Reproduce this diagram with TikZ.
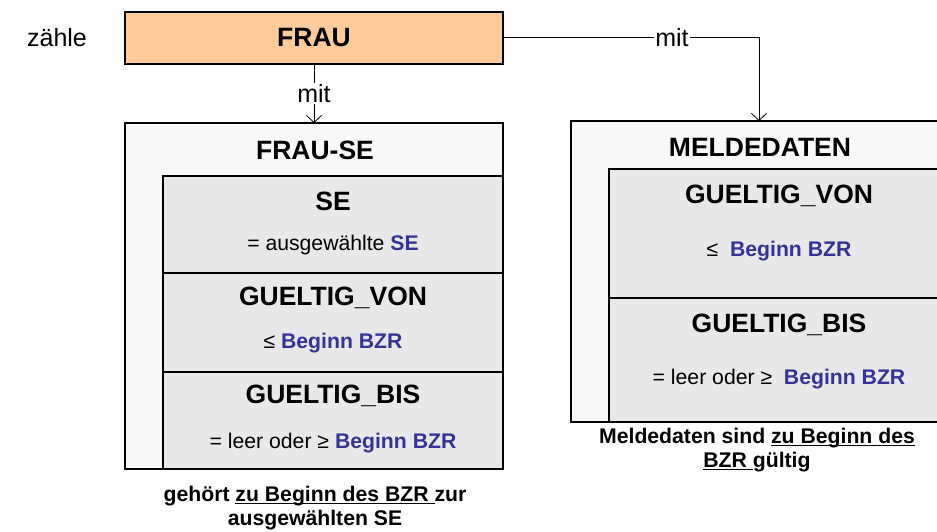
\documentclass[tikz,border=0pt]{standalone}
\usepackage{fontspec}
\setmainfont{Liberation Sans}
\usetikzlibrary{arrows.meta,calc}
\definecolor{fraufill}{HTML}{FFCC99}
\definecolor{outerfill}{HTML}{F8F8F8}
\definecolor{innerfill}{HTML}{E8E8E8}
\definecolor{bluetxt}{HTML}{333399}
\newcommand{\hd}{\fontsize{26.5}{29}\selectfont\bfseries}
\newcommand{\tx}{\fontsize{21.2}{25}\selectfont}
\newcommand{\bl}[1]{\textcolor{bluetxt}{\bfseries #1}}
\newcommand{\myul}[1]{\setbox0\hbox{#1}\rlap{\rule[-3pt]{\wd0}{1.3pt}}\box0}
\begin{document}
\begin{tikzpicture}[x=1pt,y=-1pt,
  box/.style={draw=black, line width=2pt, anchor=north west, inner sep=0pt, outer sep=0pt},
  lbl/.style={inner sep=0pt, anchor=center},
  conn/.style={line width=1pt, -{Straight Barb[length=7pt,width=15pt,line width=0.8pt]}},
  connlbl/.style={fill=white, inner sep=1pt, font=\fontsize{25}{28}\selectfont}
]
\useasboundingbox (0,0) rectangle (937,532);
% FRAU
\node[box, fill=fraufill, minimum width=378pt, minimum height=52pt] (frau) at (125,12) {};
\node[lbl] (frautxt) at (frau.center) {\hd FRAU};
\node[lbl] (zaehle) at (57,38) {\fontsize{25}{28}\selectfont zähle};
% FRAU-SE
\node[box, fill=outerfill, minimum width=378pt, minimum height=346pt] (frause) at (125,123) {};
\node[lbl] (frausetxt) at (315,150) {\hd FRAU-SE};
\node[box, fill=innerfill, minimum width=340pt, minimum height=97pt] (se) at (163,176) {};
\node[box, fill=innerfill, minimum width=340pt, minimum height=99pt] (gv1) at (163,273) {};
\node[box, fill=innerfill, minimum width=340pt, minimum height=97pt] (gb1) at (163,372) {};
\node[lbl] (setxt) at (333,201) {\hd SE};
\node[lbl] (sesub) at (333,245) {\tx = ausgewählte \bl{SE}};
\node[lbl] (gv1txt) at (333,298) {\hd GUELTIG\_VON};
\node[lbl] (gv1sub) at (333,343) {\tx ≤ \bl{Beginn BZR}};
\node[lbl] (gb1txt) at (333,396) {\hd GUELTIG\_BIS};
\node[lbl] (gb1sub) at (333,443) {\tx = leer oder ≥ \bl{Beginn BZR}};
\node[lbl, align=center, font=\tx\bfseries] (cap1) at (315,508) {gehört \myul{zu Beginn des BZR\ }zur\\[-1pt]ausgewählten SE};
% MELDEDATEN
\node[box, fill=outerfill, minimum width=372pt, minimum height=301pt] (meld) at (571,121) {};
\node[lbl] (meldtxt) at (760,147) {\hd MELDEDATEN};
\node[box, fill=innerfill, minimum width=334pt, minimum height=129pt] (gv2) at (609,169) {};
\node[box, fill=innerfill, minimum width=334pt, minimum height=124pt] (gb2) at (609,298) {};
\node[lbl] (gv2txt) at (779,196) {\hd GUELTIG\_VON};
\node[lbl] (gv2sub) at (779,251) {\tx ≤\ \ \bl{Beginn BZR}};
\node[lbl] (gb2txt) at (779,325) {\hd GUELTIG\_BIS};
\node[lbl] (gb2sub) at (779,379) {\tx = leer oder ≥\ \ \bl{Beginn BZR}};
\node[lbl, align=center, font=\tx\bfseries] (cap2) at (757,450) {Meldedaten sind \myul{zu Beginn des}\\[-1pt]\myul{BZR\ }gültig};
% connectors
\draw[conn] (frau.south) -- node[connlbl, pos=0.5] {mit} (frause.north);
\coordinate (bend) at (759,38);
\draw[conn] (frau.east) -- node[connlbl, pos=0.66] {mit} (bend) -- (bend |- meld.north);
\end{tikzpicture}
\end{document}
